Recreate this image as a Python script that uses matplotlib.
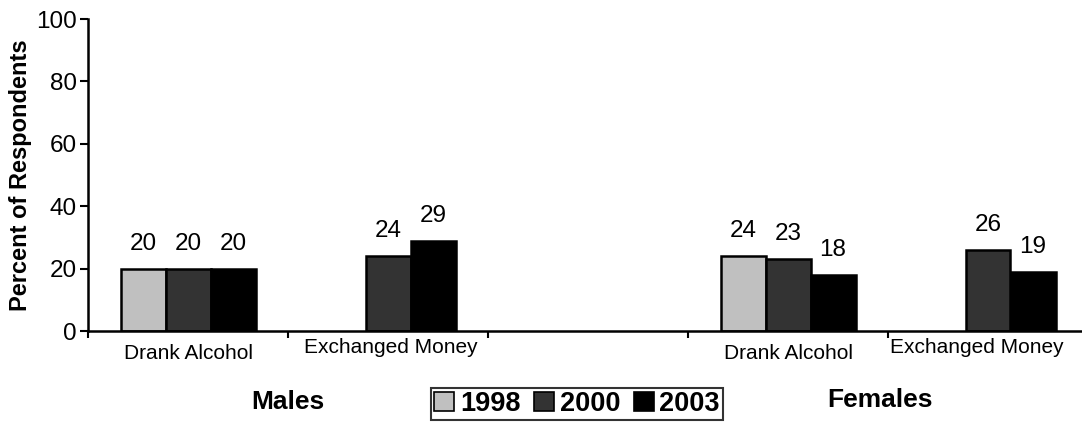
import numpy as np
import matplotlib
matplotlib.use("Agg")
import matplotlib.pyplot as plt

plt.rcParams["font.family"] = ["Liberation Sans", "DejaVu Sans"]

# Data
categories = ["Drank Alcohol", "Exchanged Money", "", "Drank Alcohol", "Exchanged Money"]
years = ["1998", "2000", "2003"]
vals_1998 = [20, np.nan, np.nan, 24, np.nan]
vals_2000 = [20, 24, np.nan, 23, 26]
vals_2003 = [20, 29, np.nan, 18, 19]
groups = ["Males", "Females"]

colors = ["#C0C0C0", "#333333", "#000000"]
series = [vals_1998, vals_2000, vals_2003]

fig = plt.figure(figsize=(10.82, 4.22), dpi=100)
ax = fig.add_axes([88 / 1082, 91 / 422, 994 / 1082, 312 / 422])

x = np.arange(len(categories))
w = 0.225
for i, (vals, c, yr) in enumerate(zip(series, colors, years)):
    pos = x + (i - 1) * w
    ax.bar(pos, vals, width=w, color=c, edgecolor="black",
           linewidth=1.8, label=yr)
    for p, v in zip(pos, vals):
        if not np.isnan(v):
            ax.annotate(f"{v:.0f}", (p, v), xytext=(0, 10),
                        textcoords="offset points", ha="center",
                        va="bottom", fontsize=17.5)

ax.set_xlim(-0.5, 4.47)
ax.set_ylim(0, 100)
ax.set_yticks([0, 20, 40, 60, 80, 100])
ax.tick_params(axis="y", labelsize=17.5, length=6, width=1.5, pad=2)
ax.set_xticks([-0.5, 0.5, 1.5, 2.5, 3.5])
ax.set_xticklabels([])
ax.tick_params(axis="x", length=5, width=1.5)
for s in ["top", "right"]:
    ax.spines[s].set_visible(False)
for s in ["left", "bottom"]:
    ax.spines[s].set_linewidth(1.8)

ax.set_ylabel("Percent of Respondents", fontsize=17, fontweight="bold")
ax.yaxis.set_label_coords(-0.056, 0.5)

# staggered category labels under the axis
tr = ax.get_xaxis_transform()
label_x = [0, 1.015, None, 3.005, 3.945]
label_y = [-0.071, -0.052, None, -0.071, -0.052]
for cat, lx, ly in zip(categories, label_x, label_y):
    if cat:
        ax.text(lx, ly, cat, transform=tr, ha="center", va="center",
                fontsize=15)

ax.text(0.5, -0.228, groups[0], transform=tr, ha="center", va="center",
        fontsize=19, fontweight="bold")
ax.text(3.46, -0.222, groups[1], transform=tr, ha="center", va="center",
        fontsize=19, fontweight="bold")

leg = fig.legend(loc="center", bbox_to_anchor=(577 / 1082, 1 - 404 / 422),
                 ncol=3, frameon=True, fancybox=False,
                 prop={"weight": "bold", "size": 19.5},
                 handlelength=0.75, handleheight=0.75, handletextpad=0.2,
                 columnspacing=0.5, borderpad=0.12, borderaxespad=0)
leg.get_frame().set_edgecolor("black")
leg.get_frame().set_linewidth(1.5)
for h in leg.legend_handles:
    h.set_linewidth(1.2)

fig.savefig("out.png", dpi=100)
